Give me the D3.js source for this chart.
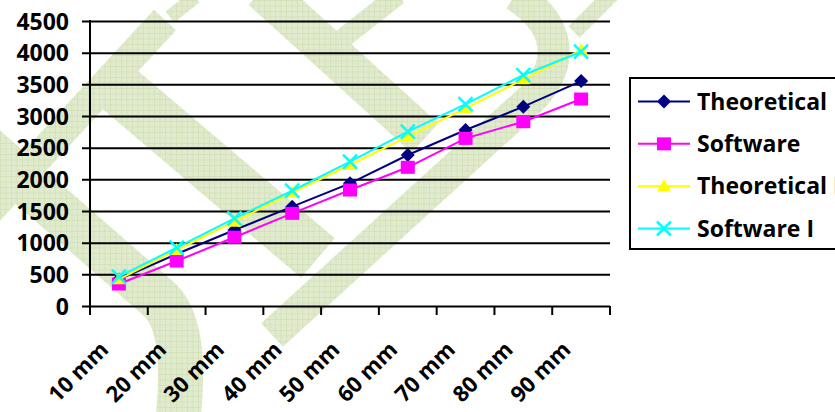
<!DOCTYPE html>
<html>
<head>
<meta charset="utf-8">
<script src="https://cdn.jsdelivr.net/npm/d3@7"></script>
<style>
  html, body { margin: 0; padding: 0; background: #fff; }
  svg { display: block; }
  text { font-family: "Open Sans", Lato, sans-serif; font-weight: 700; fill: #000; }
</style>
</head>
<body>
<svg id="chart" width="835" height="412"></svg>
<script>
// Load per length
const categories = ["10 mm", "20 mm", "30 mm", "40 mm", "50 mm", "60 mm", "70 mm", "80 mm", "90 mm"];
const theoretical  = [420, 821, 1200, 1568, 1937, 2384, 2779, 3147, 3552];
const software     = [347, 710, 1085, 1463, 1831, 2190, 2647, 2910, 3268];
const theoreticalI = [421, 884, 1331, 1789, 2226, 2673, 3121, 3579, 4042];
const softwareI    = [463, 921, 1384, 1820, 2278, 2753, 3189, 3647, 4015];
const yTicks = [0, 500, 1000, 1500, 2000, 2500, 3000, 3500, 4000, 4500];
const seriesNames = ["Theoretical", "Software", "Theoretical I", "Software I"];

const series = [
  { name: seriesNames[0], values: theoretical,  color: "#000080", marker: "diamond" },
  { name: seriesNames[1], values: software,     color: "#ff00ff", marker: "square" },
  { name: seriesNames[2], values: theoreticalI, color: "#ffff00", marker: "triangle" },
  { name: seriesNames[3], values: softwareI,    color: "#00ffff", marker: "cross" }
];

const svg = d3.select("#chart");
const plot = { left: 90, right: 610, top: 21, bottom: 306 };

const x = d3.scaleBand().domain(categories).range([plot.left, plot.right]).padding(0);
const y = d3.scaleLinear().domain([0, 4500]).range([plot.bottom, plot.top]);

// Background watermark strokes with a fine grid fill
const defs = svg.append("defs");
const pat = defs.append("pattern").attr("id", "hatch")
  .attr("width", 5.5).attr("height", 5.5).attr("patternUnits", "userSpaceOnUse");
pat.append("rect").attr("width", 5.5).attr("height", 5.5).attr("fill", "#e0eacd");
pat.append("path").attr("d", "M0 0H5.5M0 0V5.5").attr("stroke", "#c8d9a6").attr("stroke-width", 0.9);

const wmStrokes = [
  { d: "M165,20 L-15,215", w: 30 },
  { d: "M195,-3 L170,17", w: 14 },
  { d: "M118,88 L318,258", w: 52 },
  { d: "M262,-10 L425,138", w: 40 },
  { d: "M398,-5 L328,50", w: 20 },
  { d: "M515,-5 C562,25 565,65 530,100 L272,335", w: 32 },
  { d: "M614,-8 L574,32", w: 16 },
  { d: "M-20,143 L160,300 C185,325 182,380 178,420", w: 45 }
];
svg.append("g").selectAll("path").data(wmStrokes).join("path")
  .attr("d", d => d.d)
  .attr("fill", "none")
  .attr("stroke", "url(#hatch)")
  .attr("stroke-width", d => d.w)
  .attr("stroke-linejoin", "round");

// Horizontal gridlines with short outer ticks
const yAxis = svg.append("g")
  .attr("transform", `translate(${plot.left},0)`)
  .call(d3.axisLeft(y).tickValues(yTicks).tickFormat(d3.format("d"))
    .tickSizeInner(-(plot.right - plot.left)).tickSizeOuter(0).tickPadding(21));
yAxis.select(".domain").remove();
yAxis.selectAll(".tick line")
  .attr("x1", -8)
  .attr("stroke", "#000").attr("stroke-width", 2);
yAxis.selectAll(".tick text")
  .style("font-size", "23px").attr("dy", "0.36em");

// Vertical axis line
svg.append("line")
  .attr("x1", plot.left).attr("x2", plot.left)
  .attr("y1", plot.top - 1).attr("y2", plot.bottom + 9)
  .attr("stroke", "#000").attr("stroke-width", 2);

// Category boundary ticks
const boundaries = categories.map(c => x(c)).concat([x.range()[1]]);
svg.append("g").selectAll("line").data(boundaries).join("line")
  .attr("x1", d => d).attr("x2", d => d)
  .attr("y1", plot.bottom).attr("y2", plot.bottom + 9)
  .attr("stroke", "#000").attr("stroke-width", 2);

// Rotated category labels
const xAxis = svg.append("g")
  .attr("transform", `translate(0,${plot.bottom})`)
  .call(d3.axisBottom(x).tickSize(0).tickPadding(0));
xAxis.select(".domain").remove();
xAxis.selectAll(".tick text")
  .style("font-size", "22px")
  .attr("text-anchor", "end")
  .attr("dy", 0)
  .attr("transform", "translate(-9,45) rotate(-45)");

// Marker shapes
function drawMarker(g, type, color, size) {
  const s = size;
  if (type === "diamond") {
    g.append("path").attr("d", `M0,${-s}L${s},0L0,${s}L${-s},0Z`).attr("fill", color);
  } else if (type === "square") {
    g.append("rect").attr("x", -s).attr("y", -s + 0.5).attr("width", 2 * s).attr("height", 2 * s - 1).attr("fill", color);
  } else if (type === "triangle") {
    g.append("path").attr("d", `M0,${-s}L${s},${s - 2}L${-s},${s - 2}Z`).attr("fill", color);
  } else if (type === "cross") {
    g.append("path").attr("d", `M${-s},${-s}L${s},${s}M${-s},${s}L${s},${-s}`)
      .attr("stroke", color).attr("stroke-width", 2.5).attr("fill", "none");
  }
}

const line = d3.line().x((d, i) => x(categories[i]) + x.bandwidth() / 2).y(d => y(d));

series.forEach(s => {
  const g = svg.append("g");
  g.append("path").datum(s.values)
    .attr("d", line)
    .attr("fill", "none").attr("stroke", s.color).attr("stroke-width", 2);
  s.values.forEach((v, i) => {
    const m = g.append("g").attr("transform", `translate(${x(categories[i]) + x.bandwidth() / 2},${y(v)})`);
    drawMarker(m, s.marker, s.color, 7);
  });
});

// Legend
const legend = svg.append("g");
legend.append("rect")
  .attr("x", 630).attr("y", 78).attr("width", 260).attr("height", 171)
  .attr("fill", "#fff").attr("stroke", "#000").attr("stroke-width", 2);
const rowY = d3.scalePoint().domain(seriesNames).range([101.5, 228.5]);
series.forEach(s => {
  const cy = rowY(s.name);
  legend.append("line").attr("x1", 638).attr("x2", 690).attr("y1", cy).attr("y2", cy)
    .attr("stroke", s.color).attr("stroke-width", 2);
  const m = legend.append("g").attr("transform", `translate(664,${cy})`);
  drawMarker(m, s.marker, s.color, 7);
  legend.append("text").attr("x", 697).attr("y", cy).attr("dy", "0.36em")
    .style("font-size", "23px").text(s.name);
});
</script>
</body>
</html>
